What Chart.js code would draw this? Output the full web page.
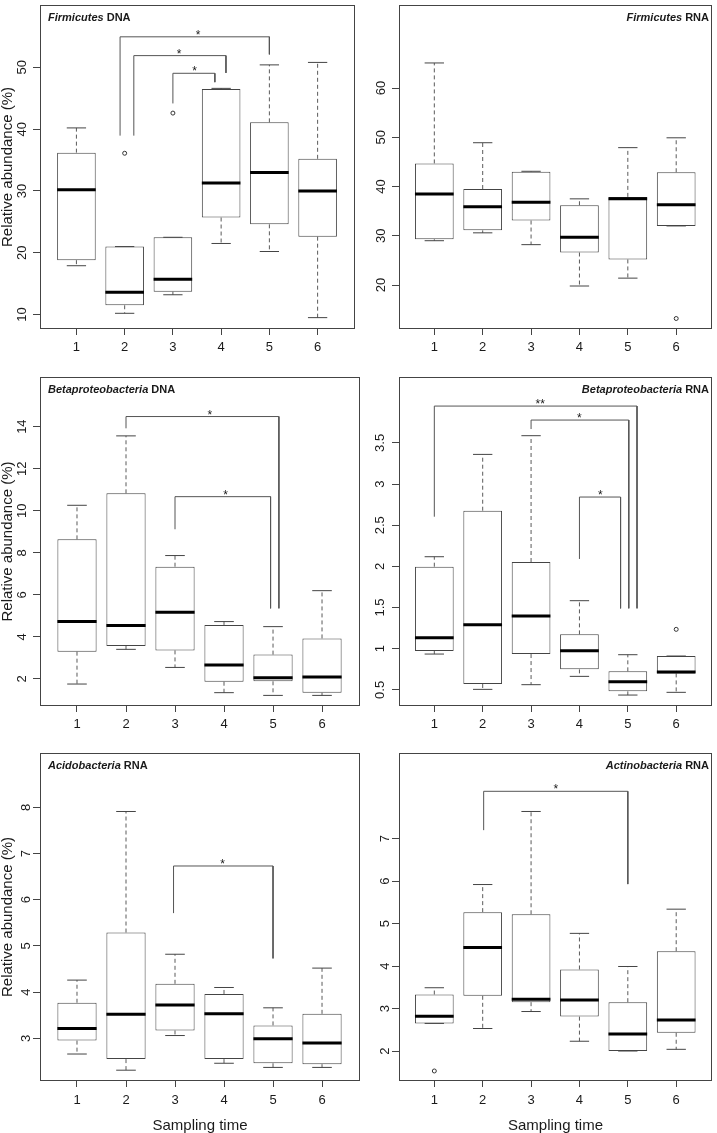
<!DOCTYPE html>
<html>
<head>
<meta charset="utf-8">
<script src="https://cdn.jsdelivr.net/npm/chart.js@4"></script>
<style>
  html, body { margin: 0; padding: 0; background: #fff; }
  #page { position: relative; width: 717px; height: 1133px; overflow: hidden; background: #fff; }
  #page canvas { position: absolute; }
</style>
</head>
<body>
<div id="page">
  <canvas id="p1" width="360" height="365" style="left:0;top:0"></canvas>
  <canvas id="p2" width="357" height="365" style="left:360px;top:0"></canvas>
  <canvas id="p3" width="360" height="370" style="left:0;top:365px"></canvas>
  <canvas id="p4" width="357" height="370" style="left:360px;top:365px"></canvas>
  <canvas id="p5" width="360" height="398" style="left:0;top:735px"></canvas>
  <canvas id="p6" width="357" height="398" style="left:360px;top:735px"></canvas>
</div>
<script>
// sampling times (x categories)
const times = [1, 2, 3, 4, 5, 6];

// Firmicutes DNA
const firmDnaLow  = [17.9, 10.2, 13.2, 21.5, 20.2, 9.5];
const firmDnaQ1   = [18.8, 11.5, 13.7, 25.7, 24.6, 22.6];
const firmDnaMed  = [30.2, 13.6, 15.7, 31.3, 33.0, 30.0];
const firmDnaQ3   = [36.2, 21.0, 22.5, 46.5, 41.1, 35.2];
const firmDnaHigh = [40.2, 21.0, 22.5, 46.6, 50.4, 50.8];
const firmDnaOut  = [[2, 36.1], [3, 42.6]];
const firmDnaTicks = [10, 20, 30, 40, 50];
// significance brackets: [xLeft, yLeftEnd, xRight, yRightEnd, yTop, starX, label]
const firmDnaSig = [
    [1.905, 38.95, 5.0, 52.1, 54.94, 3.52, '*'],
    [2.19, 38.95, 4.1, 49.1, 51.9, 3.13, '*'],
    [3.0, 44.16, 3.87, 47.6, 49.04, 3.45, '*']
];

// Firmicutes RNA
const firmRnaLow  = [29.0, 30.6, 28.2, 19.8, 21.4, 32.0];
const firmRnaQ1   = [29.3, 31.1, 33.1, 26.6, 25.2, 32.0];
const firmRnaMed  = [38.5, 35.9, 36.8, 29.7, 37.5, 36.3];
const firmRnaQ3   = [44.7, 39.5, 43.0, 36.2, 37.9, 42.9];
const firmRnaHigh = [65.1, 48.9, 43.1, 37.5, 47.9, 49.9];
const firmRnaOut  = [[6, 13.2]];
const firmRnaTicks = [20, 30, 40, 50, 60];
const firmRnaSig = [];

// Betaproteobacteria DNA
const betaDnaLow  = [1.76, 3.41, 2.55, 1.35, 1.22, 1.22];
const betaDnaQ1   = [3.30, 3.57, 3.36, 1.87, 1.89, 1.35];
const betaDnaMed  = [4.73, 4.54, 5.17, 2.67, 2.06, 2.10];
const betaDnaQ3   = [8.64, 10.83, 7.34, 4.57, 3.16, 3.93];
const betaDnaHigh = [10.26, 13.56, 7.87, 4.73, 4.49, 6.20];
const betaDnaOut  = [];
const betaDnaTicks = [2, 4, 6, 8, 10, 12, 14];
const betaDnaSig = [
    [2.0, 13.92, 5.12, 5.36, 14.48, 3.71, '*'],
    [3.0, 9.12, 4.95, 5.36, 10.67, 4.03, '*']
];

// Betaproteobacteria RNA
const betaRnaLow  = [0.935, 0.506, 0.563, 0.664, 0.437, 0.47];
const betaRnaQ1   = [0.972, 0.571, 0.935, 0.749, 0.482, 0.70];
const betaRnaMed  = [1.134, 1.29, 1.397, 0.976, 0.60, 0.717];
const betaRnaQ3   = [1.996, 2.676, 2.053, 1.174, 0.725, 0.911];
const betaRnaHigh = [2.117, 3.36, 3.587, 1.583, 0.927, 0.911];
const betaRnaOut  = [[6, 1.235]];
const betaRnaTicks = [0.5, 1, 1.5, 2, 2.5, 3, 3.5];
const betaRnaSig = [
    [1.0, 2.603, 5.19, 1.49, 3.947, 3.19, '**'],
    [3.0, 3.668, 5.02, 1.49, 3.777, 4.0, '*'],
    [4.0, 2.09, 4.85, 1.49, 2.842, 4.43, '*']
];

// Acidobacteria RNA
const acidoLow  = [2.66, 2.31, 3.06, 2.46, 2.37, 2.37];
const acidoQ1   = [2.95, 2.55, 3.17, 2.55, 2.46, 2.44];
const acidoMed  = [3.21, 3.52, 3.72, 3.53, 2.99, 2.90];
const acidoQ3   = [3.77, 5.29, 4.18, 3.96, 3.28, 3.53];
const acidoHigh = [4.26, 7.91, 4.82, 4.10, 3.66, 4.52];
const acidoOut  = [];
const acidoTicks = [3, 4, 5, 6, 7, 8];
const acidoSig = [[2.97, 5.71, 5.0, 4.73, 6.73, 3.97, '*']];

// Actinobacteria RNA
const actinoLow  = [2.65, 2.53, 2.93, 2.23, 2.0, 2.04];
const actinoQ1   = [2.65, 3.30, 3.15, 2.81, 2.0, 2.43];
const actinoMed  = [2.82, 4.44, 3.22, 3.20, 2.40, 2.73];
const actinoQ3   = [3.33, 5.27, 5.22, 3.92, 3.15, 4.35];
const actinoHigh = [3.49, 5.92, 7.64, 4.77, 3.99, 5.34];
const actinoOut  = [[1, 1.53]];
const actinoTicks = [2, 3, 4, 5, 6, 7];
const actinoSig = [[2.02, 7.20, 5.0, 5.93, 8.115, 3.51, '*']];

const FONT = '"Liberation Sans", Arial, Helvetica, sans-serif';
const INK = '#1a1a1a';
const LINE = '#444';

// turn polylines [x1,y1,x2,y2,...] into one line dataset with gaps between them
function segs(list) {
    const pts = [];
    list.forEach(s => {
        for (let k = 0; k < s.length; k += 2) pts.push({x: s[k], y: s[k + 1]});
        pts.push({x: s[0], y: null});
    });
    return pts;
}

function decoPlugin(p) {
    return {
        id: 'deco',
        afterDatasetsDraw(chart) {
            const ctx = chart.ctx, a = chart.chartArea;
            const xs = chart.scales.x, ys = chart.scales.y;
            ctx.save();
            // frame
            ctx.strokeStyle = LINE;
            ctx.lineWidth = 1;
            ctx.strokeRect(a.left + 0.5, a.top + 0.5, a.right - a.left - 1, a.bottom - a.top - 1);
            // stars
            ctx.fillStyle = INK;
            ctx.font = '12px ' + FONT;
            ctx.textAlign = 'center';
            ctx.textBaseline = 'alphabetic';
            p.sig.forEach(b => ctx.fillText(b[6], xs.getPixelForValue(b[5]), ys.getPixelForValue(b[4]) + 2));
            // panel title
            const f1 = 'italic bold 11px ' + FONT, f2 = 'bold 11px ' + FONT;
            ctx.textAlign = 'left';
            ctx.textBaseline = 'middle';
            ctx.font = f1;
            const w1 = ctx.measureText(p.genus).width;
            ctx.font = f2;
            const w2 = ctx.measureText(' ' + p.kind).width;
            const tx = p.titleRight ? a.right - 3 - w1 - w2 : a.left + 8;
            const ty = a.top + 12.5;
            ctx.font = f1;
            ctx.fillText(p.genus, tx, ty);
            ctx.font = f2;
            ctx.fillText(' ' + p.kind, tx + w1, ty);
            ctx.restore();
        }
    };
}

function boxPanel(id, p) {
    const n = times.length;
    const whisk = [], caps = [], meds = [];
    for (let i = 0; i < n; i++) {
        const t = times[i];
        whisk.push([t, p.q3[i], t, p.high[i]], [t, p.q1[i], t, p.low[i]]);
        caps.push([t - 0.2, p.high[i], t + 0.2, p.high[i]], [t - 0.2, p.low[i], t + 0.2, p.low[i]]);
        meds.push([t - 0.4, p.med[i], t + 0.4, p.med[i]]);
    }
    const brackets = p.sig.map(b => [b[0], b[1], b[0], b[4], b[2], b[4], b[2], b[3]]);

    new Chart(document.getElementById(id), {
        type: 'bar',
        data: {
            datasets: [
                {
                    type: 'bar',
                    data: times.map((t, i) => ({x: t, y: [p.q1[i], p.q3[i]]})),
                    backgroundColor: '#fff',
                    borderColor: LINE,
                    borderWidth: 1,
                    borderSkipped: false,
                    categoryPercentage: 0.8,
                    barPercentage: 1,
                    order: 5
                },
                {
                    type: 'line', data: segs(whisk), borderColor: '#5a5a5a', borderWidth: 1,
                    borderDash: [4, 3], pointRadius: 0, spanGaps: false, order: 4
                },
                {
                    type: 'line', data: segs(caps), borderColor: LINE, borderWidth: 1,
                    pointRadius: 0, spanGaps: false, order: 3
                },
                {
                    type: 'line', data: segs(brackets), borderColor: '#555', borderWidth: 1,
                    pointRadius: 0, spanGaps: false, order: 3
                },
                {
                    type: 'scatter', data: p.out.map(o => ({x: o[0], y: o[1]})),
                    pointRadius: 2, pointBorderWidth: 1, pointBackgroundColor: '#fff',
                    pointBorderColor: '#333', order: 2
                },
                {
                    type: 'line', data: segs(meds), borderColor: '#000', borderWidth: 3,
                    pointRadius: 0, spanGaps: false, order: 1
                }
            ]
        },
        options: {
            responsive: false,
            animation: false,
            events: [],
            layout: {padding: {left: 0, right: 0, top: p.padTop, bottom: 0}},
            plugins: {legend: {display: false}, tooltip: {enabled: false}},
            scales: {
                x: {
                    type: 'linear', min: p.xMin, max: p.xMax, offset: false, bounds: 'data',
                    afterBuildTicks: s => { s.ticks = times.map(v => ({value: v})); },
                    afterFit: s => { s.height = p.xH; s.paddingLeft = 0; s.paddingRight = 0; },
                    grid: {display: true, offset: false, drawOnChartArea: false, drawTicks: true, tickLength: 6, color: LINE},
                    border: {display: false},
                    ticks: {color: INK, font: {family: FONT, size: 13}, padding: p.labelPad, maxRotation: 0, autoSkip: false, callback: v => String(v)},
                    title: {display: !!p.xTitle, text: p.xTitle || '', color: INK, font: {family: FONT, size: 15, lineHeight: 1}, padding: {top: 0, bottom: 0}}
                },
                y: {
                    type: 'linear', min: p.yMin, max: p.yMax, bounds: 'data',
                    afterBuildTicks: s => { s.ticks = p.ticks.map(v => ({value: v})); },
                    afterFit: s => { s.width = p.yW; s.paddingTop = 0; s.paddingBottom = 0; },
                    grid: {display: true, drawOnChartArea: false, drawTicks: true, tickLength: 7, color: LINE},
                    border: {display: false},
                    ticks: {color: INK, font: {family: FONT, size: 13}, padding: 3, minRotation: 90, maxRotation: 90, crossAlign: 'center', autoSkip: false, callback: v => String(v)},
                    title: {display: !!p.yTitle, text: p.yTitle || '', color: INK, font: {family: FONT, size: 15, lineHeight: 1}, padding: {top: 0, bottom: 0}}
                }
            }
        },
        plugins: [decoPlugin(p)]
    });
}

const yLab = 'Relative abundance (%)';

boxPanel('p1', {low: firmDnaLow, q1: firmDnaQ1, med: firmDnaMed, q3: firmDnaQ3, high: firmDnaHigh, out: firmDnaOut,
    ticks: firmDnaTicks, sig: firmDnaSig, genus: 'Firmicutes', kind: 'DNA', titleRight: false,
    yMin: 7.66, yMax: 60.09, xMin: 0.245, xMax: 6.775, padTop: 0, yW: 40, xH: 36, labelPad: 5, yTitle: yLab});
boxPanel('p2', {low: firmRnaLow, q1: firmRnaQ1, med: firmRnaMed, q3: firmRnaQ3, high: firmRnaHigh, out: firmRnaOut,
    ticks: firmRnaTicks, sig: firmRnaSig, genus: 'Firmicutes', kind: 'RNA', titleRight: true,
    yMin: 11.07, yMax: 76.87, xMin: 0.27, xMax: 6.74, padTop: 0, yW: 39, xH: 36, labelPad: 5});
boxPanel('p3', {low: betaDnaLow, q1: betaDnaQ1, med: betaDnaMed, q3: betaDnaQ3, high: betaDnaHigh, out: betaDnaOut,
    ticks: betaDnaTicks, sig: betaDnaSig, genus: 'Betaproteobacteria', kind: 'DNA', titleRight: false,
    yMin: 0.716, yMax: 16.36, xMin: 0.245, xMax: 6.775, padTop: 12, yW: 40, xH: 29, labelPad: 5, yTitle: yLab});
boxPanel('p4', {low: betaRnaLow, q1: betaRnaQ1, med: betaRnaMed, q3: betaRnaQ3, high: betaRnaHigh, out: betaRnaOut,
    ticks: betaRnaTicks, sig: betaRnaSig, genus: 'Betaproteobacteria', kind: 'RNA', titleRight: true,
    yMin: 0.304, yMax: 4.30, xMin: 0.27, xMax: 6.74, padTop: 12, yW: 39, xH: 29, labelPad: 5});
boxPanel('p5', {low: acidoLow, q1: acidoQ1, med: acidoMed, q3: acidoQ3, high: acidoHigh, out: acidoOut,
    ticks: acidoTicks, sig: acidoSig, genus: 'Acidobacteria', kind: 'RNA', titleRight: false,
    yMin: 2.076, yMax: 9.176, xMin: 0.245, xMax: 6.775, padTop: 18, yW: 40, xH: 52, labelPad: 6, yTitle: yLab, xTitle: 'Sampling time'});
boxPanel('p6', {low: actinoLow, q1: actinoQ1, med: actinoMed, q3: actinoQ3, high: actinoHigh, out: actinoOut,
    ticks: actinoTicks, sig: actinoSig, genus: 'Actinobacteria', kind: 'RNA', titleRight: true,
    yMin: 1.294, yMax: 9.017, xMin: 0.27, xMax: 6.74, padTop: 18, yW: 39, xH: 52, labelPad: 6, xTitle: 'Sampling time'});
</script>
</body>
</html>
